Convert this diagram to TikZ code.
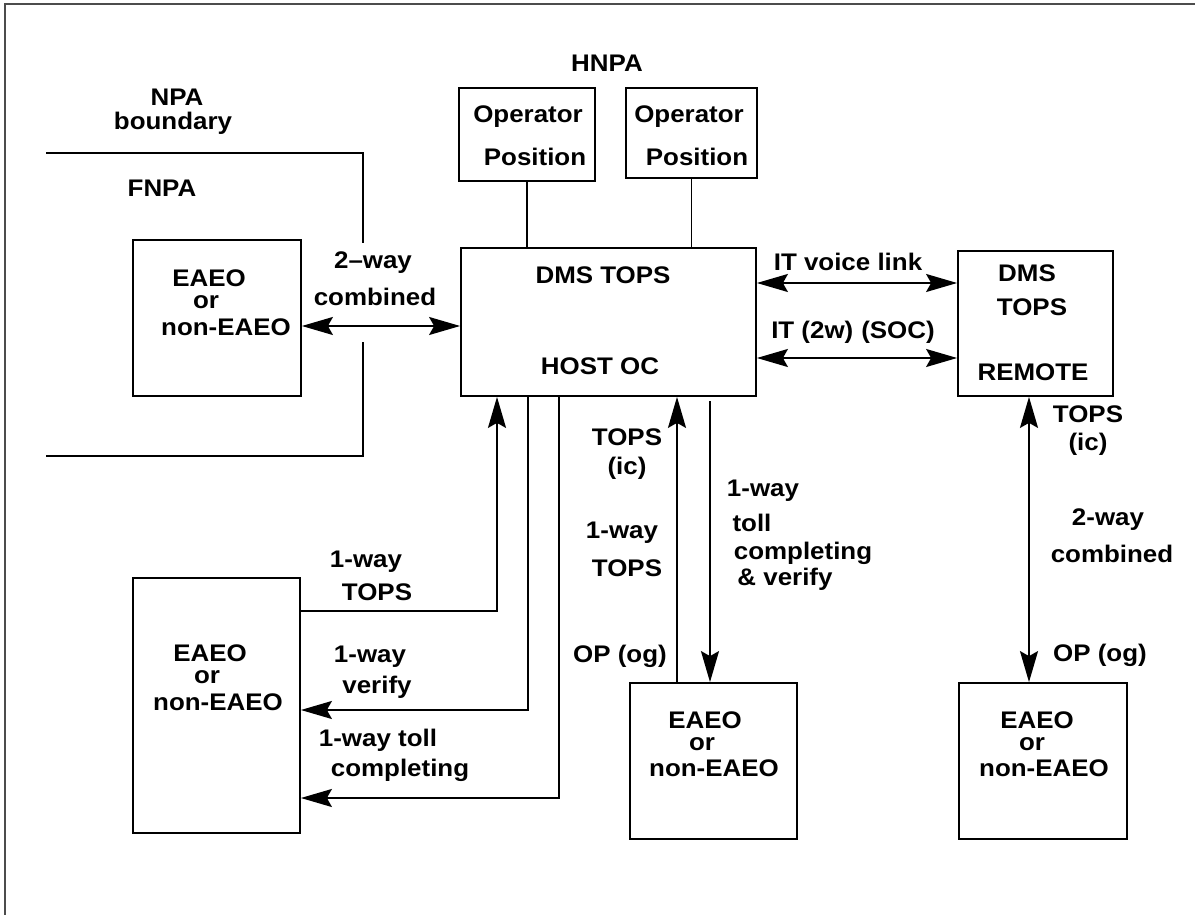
\documentclass[tikz,border=0pt]{standalone}
\usepackage{fontspec}
\setmainfont{Liberation Sans}
\newfontfamily\lblfont{Liberation Sans}[FakeStretch=1.08, Ligatures=TeX]
\usetikzlibrary{arrows.meta}
\tikzset{
  box/.style={draw, line width=1.8pt, rectangle, inner sep=0pt},
  lbl/.style={font=\lblfont\bfseries\fontsize{24}{24}\selectfont, inner sep=0pt},
  conn/.style={line width=1.8pt},
  arr/.style={conn, -{Stealth[length=31pt,width=18pt,inset=5pt]}},
  darr/.style={conn, {Stealth[length=31pt,width=18pt,inset=5pt]}-{Stealth[length=31pt,width=18pt,inset=5pt]}},
  frame/.style={line width=1.5pt, draw=black!70},
}
\begin{document}
\begin{tikzpicture}[x=1pt,y=-1pt]
\useasboundingbox (0,0) rectangle (1195,915);
% outer frame (left and top edges only)
\draw[frame] (5,915) -- (5,4) -- (1195,4);

% boxes
\node[box, minimum width=136pt, minimum height=93pt] (op1) at (527,134.5) {};
\node[box, minimum width=131pt, minimum height=90pt] (op2) at (691.5,133) {};
\node[box, minimum width=295pt, minimum height=148pt] (host) at (608.5,322) {};
\node[box, minimum width=155pt, minimum height=145pt] (remote) at (1035.5,323.5) {};
\node[box, minimum width=168pt, minimum height=156pt] (eaeoA) at (217,318) {};
\node[box, minimum width=167pt, minimum height=255pt] (eaeoB) at (216.5,705.5) {};
\node[box, minimum width=167pt, minimum height=156pt] (eaeoC) at (713.5,761) {};
\node[box, minimum width=168pt, minimum height=156pt] (eaeoD) at (1043,761) {};

% texts in boxes
\node[lbl] (op1a) at (528,117) {Operator};
\node[lbl] (op1b) at (535,157) {Position};
\node[lbl] (op2a) at (689,117) {Operator};
\node[lbl] (op2b) at (697,157) {Position};
\node[lbl] (hosta) at (603,275) {DMS TOPS};
\node[lbl] (hostb) at (600,366) {HOST OC};
\node[lbl] (rema) at (1027,273) {DMS};
\node[lbl] (remb) at (1032,307) {TOPS};
\node[lbl] (remc) at (1033,372) {REMOTE};
\node[lbl] (eAa) at (209,278) {EAEO};
\node[lbl] (eAb) at (206,302) {or};
\node[lbl] (eAc) at (226,327) {non-EAEO};
\node[lbl] (eBa) at (210,653) {EAEO};
\node[lbl] (eBb) at (207,677) {or};
\node[lbl] (eBc) at (218,702) {non-EAEO};
\node[lbl] (eCa) at (705,720) {EAEO};
\node[lbl] (eCb) at (702,744) {or};
\node[lbl] (eCc) at (714,768) {non-EAEO};
\node[lbl] (eDa) at (1037,720) {EAEO};
\node[lbl] (eDb) at (1032,744) {or};
\node[lbl] (eDc) at (1044,768) {non-EAEO};

% free labels
\node[lbl] (hnpa) at (607,63) {HNPA};
\node[lbl] (npa) at (177,97) {NPA};
\node[lbl] (bnd) at (173,123) {boundary};
\node[lbl] (fnpa) at (162,188) {FNPA};
\node[lbl] (twa) at (373,263) {2–way};
\node[lbl] (twb) at (375,297) {combined};
\node[lbl] (itv) at (848,262) {IT voice link};
\node[lbl] (it2) at (853,332) {IT (2w)\,\,(SOC)};
\node[lbl] (owa) at (366,562) {1-way};
\node[lbl] (owb) at (377,592) {TOPS};
\node[lbl] (ova) at (370,657) {1-way};
\node[lbl] (ovb) at (377,687) {verify};
\node[lbl] (ota) at (378,740) {1-way toll};
\node[lbl] (otb) at (400,770) {completing};
\node[lbl] (mta) at (627,437) {TOPS};
\node[lbl] (mtb) at (627,468) {(ic)};
\node[lbl] (mtc) at (622,533) {1-way};
\node[lbl] (mtd) at (627,568) {TOPS};
\node[lbl] (mop) at (620,656) {OP (og)};
\node[lbl] (mca) at (763,491) {1-way};
\node[lbl] (mcb) at (752,523) {toll};
\node[lbl] (mcc) at (803,553) {completing};
\node[lbl] (mcd) at (785,579) {\& verify};
\node[lbl] (rta) at (1088,414) {TOPS};
\node[lbl] (rtb) at (1088,444) {(ic)};
\node[lbl] (rca) at (1108,520) {2-way};
\node[lbl] (rcb) at (1112,554) {combined};
\node[lbl] (rop) at (1100,655) {OP (og)};

% NPA boundary
\draw[conn] (46,153) -- (363,153) -- (363,243);
\draw[conn] (363,342) -- (363,456) -- (46,456);

% connectors
\draw[conn] (op1.south) -- (op1.south |- host.north);
\draw[conn] (op2.south) -- (op2.south |- host.north);
\draw[darr] (eaeoA.east |- 0,326) -- (host.west |- 0,326);
\draw[darr] (host.east |- 0,283) -- (remote.west |- 0,283);
\draw[darr] (host.east |- 0,358) -- (remote.west |- 0,358);
\draw[arr] (eaeoB.east |- 0,611) -| (497,0 |- host.south);
\draw[arr] (528,0 |- host.south) |- (eaeoB.east |- 0,710);
\draw[arr] (559,0 |- host.south) |- (eaeoB.east |- 0,798);
\draw[arr] (677,0 |- eaeoC.north) -- (677,0 |- host.south);
\coordinate (dstart) at (710,401);
\draw[arr] (dstart) -- (dstart |- eaeoC.north);
\draw[darr] (1029,0 |- remote.south) -- (1029,0 |- eaeoD.north);
\end{tikzpicture}
\end{document}
